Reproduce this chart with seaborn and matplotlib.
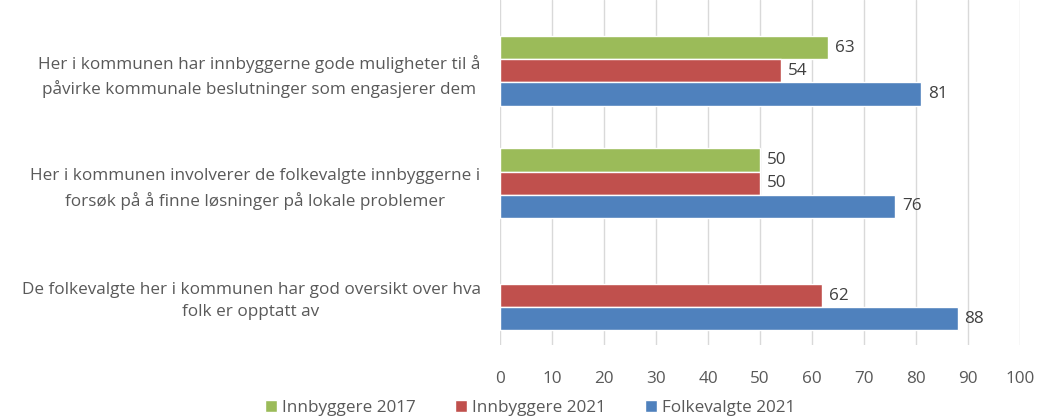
import numpy as np
import pandas as pd
import matplotlib
matplotlib.use("Agg")
import matplotlib.pyplot as plt
import seaborn as sns

# ------------ DATA ------------
statements = [
    "Her i kommunen har innbyggerne gode muligheter til å\npåvirke kommunale beslutninger som engasjerer dem",
    "Her i kommunen involverer de folkevalgte innbyggerne i\nforsøk på å finne løsninger på lokale problemer",
    "De folkevalgte her i kommunen har god oversikt over hva\nfolk er opptatt av",
]
series = ["Innbyggere 2017", "Innbyggere 2021", "Folkevalgte 2021"]
innbyggere_2017 = [63, 50, np.nan]
innbyggere_2021 = [54, 50, 62]
folkevalgte_2021 = [81, 76, 88]
colors = ["#9BBB59", "#C0504D", "#4F81BD"]

df = pd.DataFrame({
    "statement": statements * 3,
    "series": np.repeat(series, len(statements)),
    "value": innbyggere_2017 + innbyggere_2021 + folkevalgte_2021,
})

# ------------ PLOT ------------
sns.set_style("white")
plt.rcParams["font.family"] = ["Open Sans", "DejaVu Sans"]
text_color = "#595959"
fs = 12.3

fig = plt.figure(figsize=(10.38, 4.2), dpi=100)
ax = fig.add_axes([500 / 1038, 1 - 345 / 420, 520 / 1038, 345 / 420])

sns.barplot(data=df, y="statement", x="value", hue="series", order=statements,
            hue_order=series, palette=colors, width=0.62, orient="h",
            saturation=1, ax=ax, legend=True)

for cont in ax.containers:
    labels = ["" if np.isnan(v) else f"{v:.0f}" for v in cont.datavalues]
    ax.bar_label(cont, labels=labels, padding=5, fontsize=fs, color="#404040")

ax.set_xlim(0, 100)
ax.set_ylim(2.44, -0.63)
ax.set_xticks(range(0, 101, 10))
ax.grid(axis="x", color="#D9D9D9", linewidth=1)
ax.set_axisbelow(True)
for s in ax.spines.values():
    s.set_visible(False)
ax.set_xlabel("")
ax.set_ylabel("")
ax.tick_params(axis="x", length=0, pad=19, labelsize=fs, labelcolor=text_color)
ax.tick_params(axis="y", length=0, pad=14, labelsize=fs, labelcolor=text_color)
for lbl in ax.get_yticklabels():
    lbl.set_multialignment("center")
    lbl.set_linespacing(1.55)

ax.legend(loc="center", bbox_to_anchor=(0.058, -0.183), ncol=3, frameon=False,
          fontsize=fs, handlelength=0.7, handleheight=0.7, columnspacing=2.3,
          handletextpad=0.3, labelcolor=text_color)

fig.savefig("out.png", dpi=100)
